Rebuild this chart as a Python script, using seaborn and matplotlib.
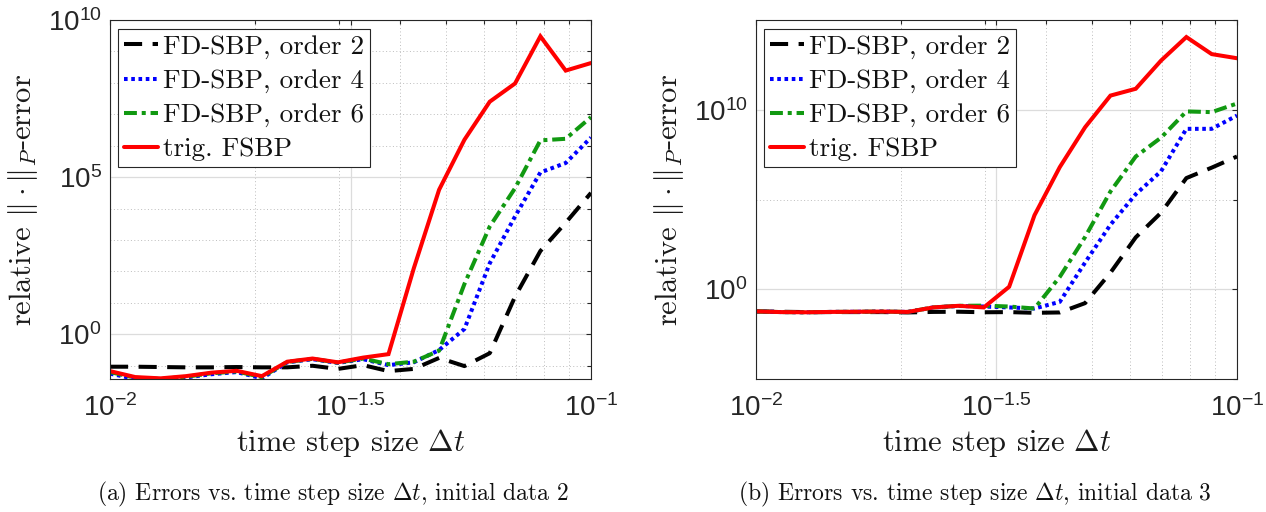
import numpy as np
import pandas as pd
import matplotlib
matplotlib.use("Agg")
import matplotlib.pyplot as plt
import seaborn as sns
from matplotlib.ticker import FixedLocator, FixedFormatter, NullFormatter

# time step sizes (shared by both panels)
dt = [0.010000, 0.011288, 0.012743, 0.014384, 0.016238, 0.018330, 0.020691,
      0.023357, 0.026367, 0.029764, 0.033598, 0.037927, 0.042813, 0.048329,
      0.054556, 0.061585, 0.069519, 0.078476, 0.088587, 0.100000]

methods = ["FD-SBP, order 2", "FD-SBP, order 4", "FD-SBP, order 6", "trig. FSBP"]

# log10 of the relative P-norm error, initial data 2
log_err_a_fd2 = [-1.03, -1.03, -1.04, -1.05, -1.05, -1.04, -1.05, -1.05, -1.00, -1.10,
                 -0.98, -1.17, -1.10, -0.75, -1.01, -0.60, 1.20, 2.65, 3.55, 4.50]
log_err_a_fd4 = [-1.25, -1.42, -1.47, -1.37, -1.27, -1.20, -1.40, -0.89, -0.79, -0.91,
                 -0.79, -0.98, -0.89, -0.50, 0.17, 2.26, 3.75, 5.15, 5.45, 6.26]
log_err_a_fd6 = [-1.20, -1.38, -1.42, -1.35, -1.24, -1.18, -1.36, -0.88, -0.78, -0.90,
                 -0.77, -0.95, -0.87, -0.52, 1.60, 3.43, 4.65, 6.17, 6.22, 6.91]
log_err_a_trig = [-1.17, -1.36, -1.40, -1.33, -1.22, -1.16, -1.33, -0.87, -0.77, -0.89,
                  -0.74, -0.63, 2.10, 4.60, 6.19, 7.40, 7.98, 9.48, 8.39, 8.63]

# log10 of the relative P-norm error, initial data 3
log_err_b_fd2 = [-1.22, -1.24, -1.26, -1.26, -1.26, -1.26, -1.28, -1.25, -1.24, -1.27,
                 -1.26, -1.30, -1.28, -0.76, 0.93, 2.90, 4.27, 6.20, 6.78, 7.40]
log_err_b_fd4 = [-1.22, -1.26, -1.27, -1.25, -1.24, -1.23, -1.25, -1.00, -0.92, -0.95,
                 -1.00, -1.06, -0.69, 1.50, 3.60, 5.30, 6.58, 8.94, 8.94, 9.68]
log_err_b_fd6 = [-1.22, -1.26, -1.27, -1.25, -1.24, -1.23, -1.25, -1.00, -0.91, -0.90,
                 -0.95, -1.06, 0.70, 2.92, 5.45, 7.40, 8.45, 9.91, 9.87, 10.35]
log_err_b_trig = [-1.22, -1.26, -1.27, -1.25, -1.24, -1.23, -1.25, -1.00, -0.91, -1.00,
                  0.15, 4.13, 6.81, 9.03, 10.79, 11.17, 12.74, 14.05, 13.10, 12.87]

panels = [
    dict(series=[log_err_a_fd2, log_err_a_fd4, log_err_a_fd6, log_err_a_trig],
         ylim=(10 ** -1.43, 1e10), yticks=[1e0, 1e5, 1e10],
         ylabels=[r"$10^{0}$", r"$10^{5}$", r"$10^{10}$"],
         yminor=[10.0 ** e for e in range(-1, 10) if e % 5 != 0],
         caption=r"(a) Errors vs. time step size $\Delta t$, initial data 2",
         caption_x=0.263),
    dict(series=[log_err_b_fd2, log_err_b_fd4, log_err_b_fd6, log_err_b_trig],
         ylim=(1e-5, 1e15), yticks=[1e0, 1e10],
         ylabels=[r"$10^{0}$", r"$10^{10}$"],
         yminor=[1e-5, 1e5, 1e15],
         caption=r"(b) Errors vs. time step size $\Delta t$, initial data 3",
         caption_x=0.770),
]

line_styles = {
    "FD-SBP, order 2": dict(color="#000000", linestyle=(0, (4.5, 2.6))),
    "FD-SBP, order 4": dict(color="#0000ff", linestyle=(0, (0.9, 0.9))),
    "FD-SBP, order 6": dict(color="#119911", linestyle=(0, (3.2, 1.2, 1.0, 1.2))),
    "trig. FSBP": dict(color="#ff0000", linestyle="-"),
}

xticks = [1e-2, 10 ** -1.5, 1e-1]
xticklabels = [r"$10^{-2}$", r"$10^{-1.5}$", r"$10^{-1}$"]
xminor = [k * 1e-2 for k in range(2, 10)]

sns.set_theme(style="white")
plt.rcParams.update({
    "font.family": ["Liberation Sans", "DejaVu Sans"],
    "mathtext.fontset": "custom",
    "mathtext.rm": "Liberation Sans",
    "mathtext.it": "Liberation Sans:italic",
    "mathtext.bf": "Liberation Sans:bold",
    "axes.edgecolor": "#262626",
    "axes.linewidth": 0.8,
})

ink = "#262626"
lw = 2.9

fig = plt.figure(figsize=(12.66, 5.12), dpi=100)
axes_left = [110 / 1266, 756 / 1266]
for panel, left in zip(panels, axes_left):
    ax = fig.add_axes([left, 0.2592, 481 / 1266, 0.7018])
    ax.set_xscale("log")
    ax.set_yscale("log")
    handles = []
    for name, logs in zip(methods, panel["series"]):
        df = pd.DataFrame({"dt": dt, "err": 10.0 ** np.asarray(logs)})
        sns.lineplot(data=df, x="dt", y="err", ax=ax, linewidth=lw,
                     estimator=None, errorbar=None, legend=False,
                     **line_styles[name])
        ln = ax.get_lines()[-1]
        ln.set_dash_capstyle("butt")
        ln.set_solid_joinstyle("miter")
        handles.append(ln)

    ax.set_xlim(1e-2, 1e-1)
    ax.set_ylim(*panel["ylim"])
    ax.xaxis.set_major_locator(FixedLocator(xticks))
    ax.xaxis.set_major_formatter(FixedFormatter(xticklabels))
    ax.xaxis.set_minor_locator(FixedLocator(xminor))
    ax.xaxis.set_minor_formatter(NullFormatter())
    ax.yaxis.set_major_locator(FixedLocator(panel["yticks"]))
    ax.yaxis.set_major_formatter(FixedFormatter(panel["ylabels"]))
    ax.yaxis.set_minor_locator(FixedLocator(panel["yminor"]))
    ax.yaxis.set_minor_formatter(NullFormatter())

    ax.set_axisbelow(True)
    ax.grid(True, which="major", color="#dcdcdc", linewidth=0.9, linestyle="-")
    ax.grid(True, which="minor", color="#bdbdbd", linewidth=0.7, linestyle=(0, (1, 2.5)))
    ax.tick_params(which="both", direction="in", top=True, right=True,
                   color=ink, width=0.8, labelcolor=ink, labelsize=20)
    ax.tick_params(which="major", length=3.5)
    ax.tick_params(which="minor", length=3.0)
    ax.tick_params(axis="x", which="major", pad=11)
    ax.tick_params(axis="y", which="major", pad=6)
    for sp in ax.spines.values():
        sp.set_visible(True)
        sp.set_color(ink)
        sp.set_linewidth(0.8)

    ax.set_xlabel(r"time step size $\Delta t$", fontfamily="cmr10", fontsize=22,
                  color="#1a1a1a")
    ax.xaxis.label.set_math_fontfamily("cm")
    ax.xaxis.label.set_va("center")
    ax.xaxis.set_label_coords(0.5, -0.178)
    ax.set_ylabel(r"relative $\|\cdot\|_P$-error", fontfamily="cmr10", fontsize=22,
                  color="#1a1a1a")
    ax.yaxis.label.set_math_fontfamily("cm")
    ax.yaxis.label.set_va("center")
    ax.yaxis.set_label_coords(-0.18, 0.5)

    leg = ax.legend(handles, methods, loc="upper left", bbox_to_anchor=(0.017, 0.975),
                    borderaxespad=0, prop={"family": "cmr10", "size": 19.5},
                    frameon=True, fancybox=False, framealpha=1, edgecolor=ink,
                    handlelength=1.25, handletextpad=0.18, borderpad=0.22,
                    labelspacing=0.37)
    leg.get_frame().set_linewidth(0.8)
    for t in leg.get_texts():
        t.set_color("#111111")

    fig.text(panel["caption_x"], 0.035, panel["caption"], ha="center", va="center",
             fontfamily="cmr10", fontsize=17, math_fontfamily="cm", color="#111111")

fig.savefig("out.png", dpi=100)
